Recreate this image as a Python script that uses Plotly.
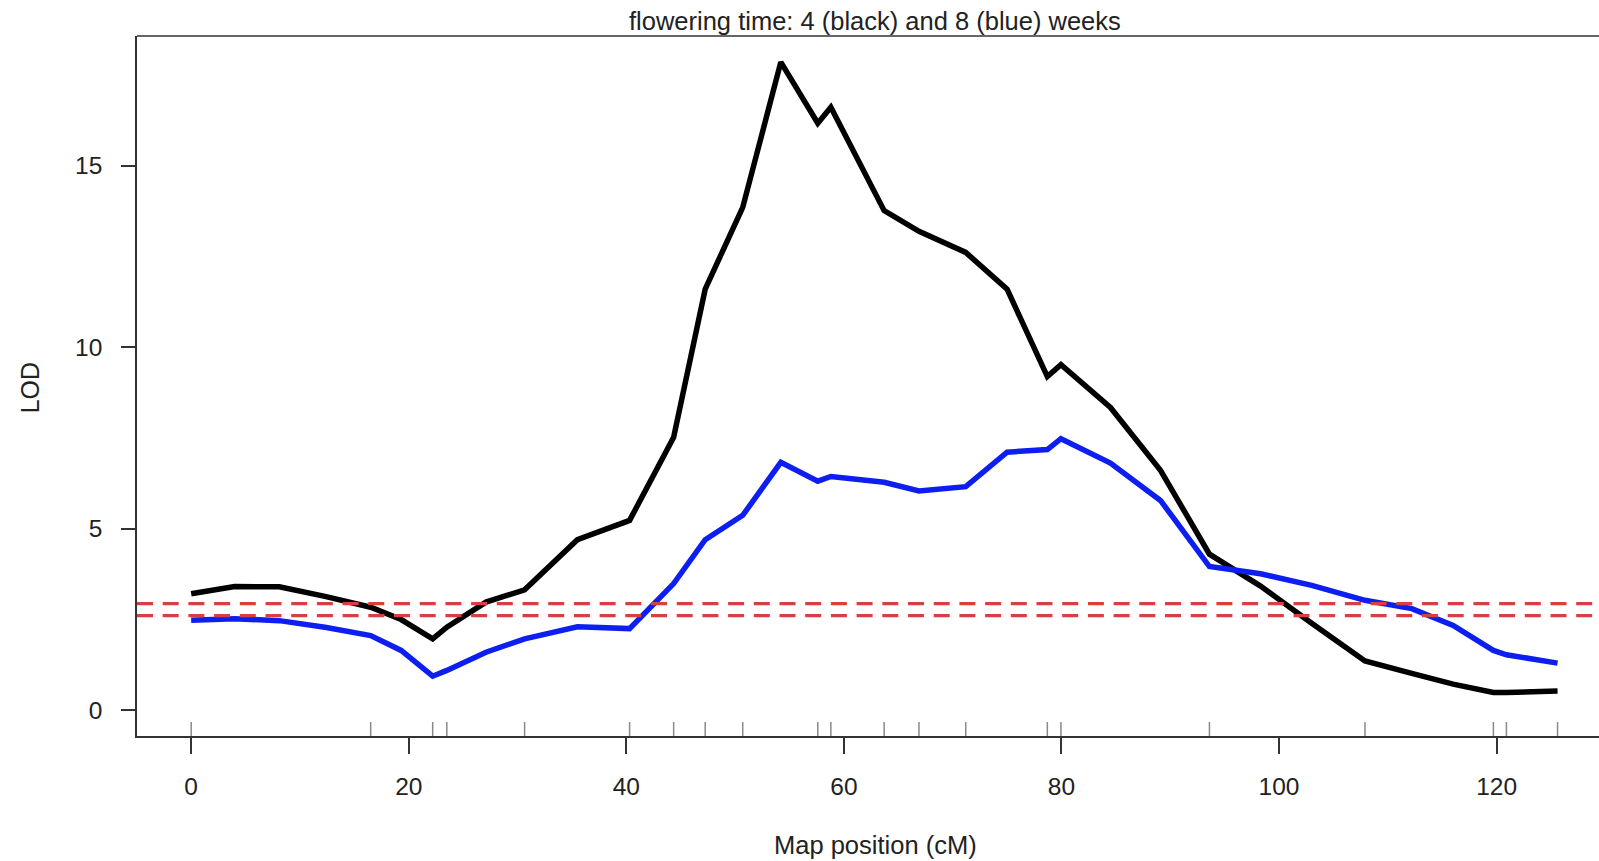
import plotly.graph_objects as go

# ---- data ----
pos_cM = [0, 4.0, 8.1, 12.3, 16.5, 19.3, 22.2, 23.5, 27.1, 30.65, 35.5, 40.3, 44.35,
          47.25, 50.7, 54.2, 57.6, 58.8, 63.7, 66.9, 71.2, 75.0, 78.7, 79.95, 84.5,
          89.1, 93.6, 98.3, 103.0, 107.9, 112.2, 116.0, 119.7, 120.9, 125.6]

lod_4wk = [3.21, 3.41, 3.40, 3.14, 2.84, 2.50, 1.97, 2.29, 2.98, 3.32, 4.70, 5.23, 7.52,
           11.6, 13.85, 17.85, 16.17, 16.61, 13.76, 13.19, 12.61, 11.6, 9.19, 9.52, 8.34,
           6.61, 4.30, 3.42, 2.40, 1.36, 1.02, 0.72, 0.49, 0.49, 0.53]

lod_8wk = [2.48, 2.52, 2.47, 2.29, 2.06, 1.65, 0.94, 1.10, 1.60, 1.97, 2.30, 2.25, 3.49,
           4.70, 5.37, 6.83, 6.31, 6.44, 6.28, 6.04, 6.16, 7.11, 7.18, 7.48, 6.81,
           5.78, 3.96, 3.76, 3.44, 3.03, 2.80, 2.34, 1.65, 1.53, 1.30]

marker_cM = [0, 16.5, 22.2, 23.5, 30.65, 40.3, 44.35, 47.25, 50.7, 57.6, 58.8, 63.7,
             66.9, 71.2, 78.7, 79.95, 93.6, 107.9, 119.7, 120.9, 125.6]

thresholds = [2.94, 2.61]

x_ticks = [0, 20, 40, 60, 80, 100, 120]
y_ticks = [0, 5, 10, 15]

title_text = "flowering time: 4 (black) and 8 (blue) weeks"
x_label = "Map position (cM)"
y_label = "LOD"

FONT = "Liberation Sans, Arial, Helvetica, sans-serif"
AX = "#333333"
TXT = "#222222"

fig = go.Figure()
fig.add_trace(go.Scatter(x=pos_cM, y=lod_4wk, mode="lines",
                         line=dict(color="black", width=5.5), showlegend=False,
                         hoverinfo="skip"))
fig.add_trace(go.Scatter(x=pos_cM, y=lod_8wk, mode="lines",
                         line=dict(color="#0d1ff0", width=5.5), showlegend=False,
                         hoverinfo="skip"))

shapes = []
# rug of marker positions
for m in marker_cM:
    shapes.append(dict(type="line", xref="x", yref="paper", x0=m, x1=m, y0=0, y1=0.02,
                       line=dict(color="#8a8a8a", width=1.5)))
# significance thresholds
for t in thresholds:
    shapes.append(dict(type="line", xref="paper", yref="y", x0=0, x1=1, y0=t, y1=t,
                       line=dict(color="#d8403f", width=3.2, dash="16px,9.7px")))
# top border of the plot box
shapes.append(dict(type="line", xref="paper", yref="paper", x0=0, x1=1, y0=1, y1=1,
                   line=dict(color=AX, width=1.5)))

fig.update_layout(
    width=1599, height=861,
    margin=dict(l=136.5, r=0, t=35.5, b=125.3, pad=0),
    plot_bgcolor="white", paper_bgcolor="white",
    font=dict(family=FONT, size=25, color=TXT),
    shapes=shapes,
    xaxis=dict(range=[-4.98, 129.41], tickvals=x_ticks, ticks="outside", ticklen=16,
               tickwidth=1.5, tickcolor=AX, showline=True, linecolor=AX, linewidth=1.5,
               showgrid=False, zeroline=False, ticklabelstandoff=12,
               tickfont=dict(size=24.5, family=FONT, color=TXT)),
    yaxis=dict(range=[-0.707, 18.57], tickvals=y_ticks, ticks="outside", ticklen=14,
               tickwidth=1.5, tickcolor=AX, showline=True, linecolor=AX, linewidth=1.5,
               showgrid=False, zeroline=False, ticklabelstandoff=14,
               tickfont=dict(size=24.5, family=FONT, color=TXT)),
    annotations=[
        dict(text=title_text, xref="paper", yref="paper", x=0.505, y=1, yshift=15,
             xanchor="center", yanchor="middle", showarrow=False,
             font=dict(size=25.5, family=FONT, color=TXT)),
        dict(text=x_label, xref="paper", yref="paper", x=0.505, y=-0.156,
             xanchor="center", yanchor="middle", showarrow=False,
             font=dict(size=25.5, family=FONT, color=TXT)),
        dict(text=y_label, xref="paper", yref="paper", x=-0.073, y=0.497,
             xanchor="center", yanchor="middle", showarrow=False, textangle=-90,
             font=dict(size=25, family=FONT, color=TXT)),
    ],
)

fig.write_html("out.html", config={"displayModeBar": False},
               post_script="document.body.style.margin='0';document.body.style.overflow='hidden';")
